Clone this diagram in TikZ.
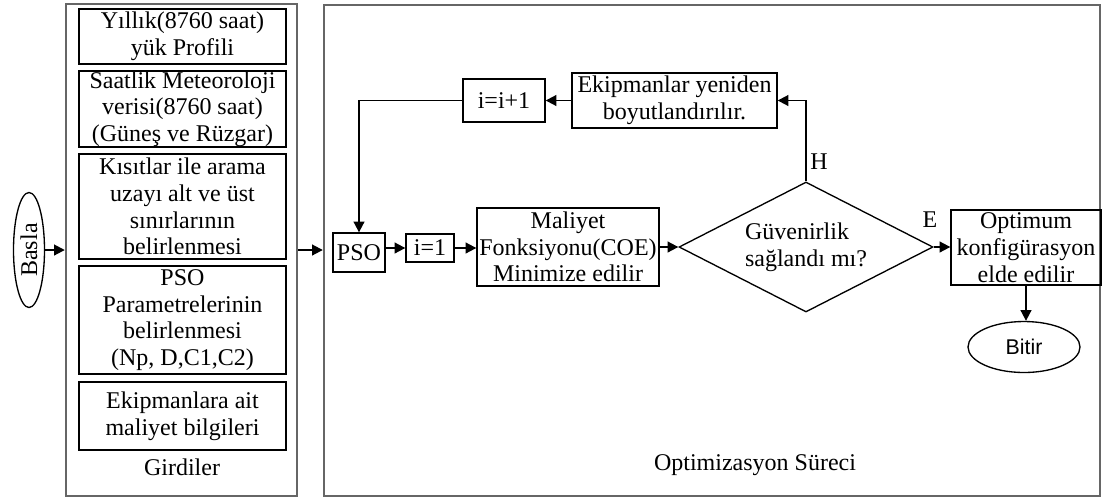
\documentclass[tikz,border=0pt]{standalone}
\usepackage{amsmath}
\usepackage{tikz}
\usepackage{xcolor}
\usepackage{fontspec}
\setmainfont{Liberation Serif}
\newfontfamily\bitirfont{Liberation Sans}
\usetikzlibrary{shapes.geometric,arrows.meta}

\begin{document}
\begin{tikzpicture}[x=0.75pt, y=-0.75pt, line width=1pt,
    font=\fontsize{18}{20}\selectfont,
    box/.style={draw, rectangle, inner sep=0pt, align=center},
    group/.style={draw=black!60, line width=1.8pt, rectangle, inner sep=0pt},
    arr/.style={-{Triangle[length=8pt,width=8pt]}, line width=1.4pt}]

    \useasboundingbox (0,0) rectangle (1103,501);

    % girdiler
    \node[group, minimum width=173.25pt, minimum height=369pt] (inputs) at (181.5,250) {};
    \node[box, minimum width=155.25pt, minimum height=41.25pt] (load) at (182.5,36.5)
        {Yıllık(8760 saat)\\yük Profili};
    \node[box, minimum width=155.25pt, minimum height=57pt] (meteo) at (182.5,109)
        {Saatlik Meteoroloji\\verisi(8760 saat)\\(Güneş ve Rüzgar)};
    \node[box, minimum width=155.25pt, minimum height=78.75pt] (bounds) at (182.5,206.5)
        {Kısıtlar ile arama\\uzayı alt ve üst\\sınırlarının\\belirlenmesi};
    \node[box, minimum width=155.25pt, minimum height=81pt] (params) at (182.5,320)
        {PSO\\Parametrelerinin\\belirlenmesi\\(Np, D,C1,C2)};
    \node[box, minimum width=155.25pt, minimum height=51pt] (costs) at (182.5,416)
        {Ekipmanlara ait\\maliyet bilgileri};
    \node (inlabel) at (182,467) {Girdiler};

    \node[ellipse, draw, rotate=90, minimum width=86.25pt, minimum height=23.25pt,
        inner sep=0pt] (basla) at (29,250) {Basla};

    % optimizasyon
    \node[group, minimum width=582pt, minimum height=368.25pt] (opt) at (712,250.5) {};
    \node (optlabel) at (755,465) {Optimizasyon Süreci};

    \node[box, minimum width=39pt, minimum height=29.25pt] (pso) at (359,252.5) {PSO};
    \node[box, minimum width=36pt, minimum height=21pt] (i1) at (430,248) {i=1};
    \node[box, minimum width=136.5pt, minimum height=58.5pt] (cost) at (568,247)
        {Maliyet\\Fonksiyonu(COE)\\Minimize edilir};
    \node[diamond, draw, aspect=1.95, minimum width=190.5pt, minimum height=97.5pt,
        inner sep=0pt, align=left] (check) at (806,247) {Güvenirlik\\sağlandı mı?};
    \node[box, minimum width=112.5pt, minimum height=56.25pt] (optimum) at (1026,247.5)
        {Optimum\\konfigürasyon\\elde edilir};
    \node[ellipse, draw, minimum width=84pt, minimum height=38.25pt, inner sep=0pt,
        font=\bitirfont\fontsize{16}{18}\selectfont] (bitir) at (1024,347) {Bitir};
    \node[box, minimum width=153.75pt, minimum height=41.25pt] (resize) at (674.5,100.5)
        {Ekipmanlar yeniden\\boyutlandırılır.};
    \node[box, minimum width=61.5pt, minimum height=32.25pt] (incr) at (504,100.5) {i=i+1};

    \draw[arr] (basla) -- (inputs);
    \draw[arr] (inputs.east) -- (inputs.east -| opt.west);
    \draw[arr] (pso.east |- i1) -- (i1.west);
    \draw[arr] (i1.east) -- (i1.east -| cost.west);
    \draw[arr] (cost.east) -- (check.west);
    \draw[arr] (check.east) -- (check.east -| optimum.west);
    \node (lblE) at (930,220) {E};
    \draw[arr] (optimum.south) -- (optimum.south |- bitir.north);
    \draw[arr] (check.north) |- (resize.east);
    \node (lblH) at (819,162) {H};
    \draw[arr] (resize) -- (incr);
    \draw[arr] (incr.west) -| (pso.north);
\end{tikzpicture}
\end{document}
